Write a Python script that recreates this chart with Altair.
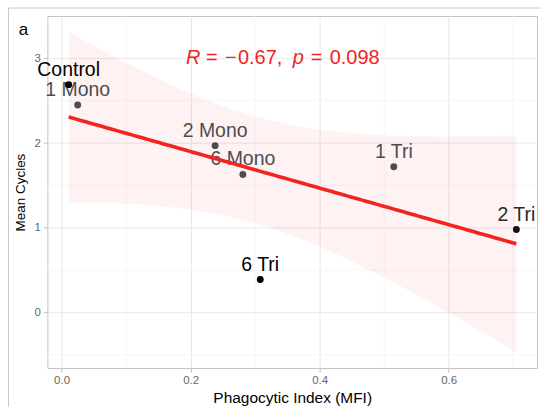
import altair as alt
import numpy as np
import pandas as pd

# Sample groups: phagocytic index (MFI) vs mean number of cycles
groups = ["Control", "1 Mono", "2 Mono", "6 Mono", "1 Tri", "2 Tri", "6 Tri"]
phagocytic = [0.011, 0.025, 0.238, 0.281, 0.515, 0.705, 0.308]
mean_cycles = [2.69, 2.45, 1.97, 1.63, 1.72, 0.98, 0.39]
point_colors = ["#000000", "#4D4D4D", "#4D4D4D", "#4D4D4D", "#4D4D4D", "#111111", "#000000"]
label_colors = ["#000000", "#4D4D4D", "#4D4D4D", "#4D4D4D", "#4D4D4D", "#2A2A2A", "#000000"]

x_major = [0.0, 0.2, 0.4, 0.6]
x_minor = [0.1, 0.3, 0.5, 0.7]
y_major = [0, 1, 2, 3]
y_minor = [-0.5, 0.5, 1.5, 2.5]

RED = "#F22420"
FONT = "Liberation Sans"

pts = pd.DataFrame({"group": groups, "x": phagocytic, "y": mean_cycles,
                    "pc": point_colors, "lc": label_colors})

# Ordinary least squares fit with a 95% confidence band
xa = np.array(phagocytic)
ya = np.array(mean_cycles)
n = len(xa)
sxx = ((xa - xa.mean()) ** 2).sum()
slope = ((xa - xa.mean()) * (ya - ya.mean())).sum() / sxx
intercept = ya.mean() - slope * xa.mean()
resid = ya - (intercept + slope * xa)
s = np.sqrt((resid ** 2).sum() / (n - 2))
t_crit = 2.570582  # t(0.975, df=5)
xs = np.linspace(xa.min(), xa.max(), 120)
fit = intercept + slope * xs
half = t_crit * s * np.sqrt(1 / n + (xs - xa.mean()) ** 2 / sxx)
band = pd.DataFrame({"x": xs, "fit": fit, "lo": fit - half, "hi": fit + half})

xscale = alt.Scale(domain=[-0.022, 0.737], nice=False, zero=False)
yscale = alt.Scale(domain=[-0.655, 3.50], nice=False, zero=False)

xaxis = alt.Axis(values=x_major, format=".1f", title="Phagocytic Index (MFI)",
                 titlePadding=5, labelPadding=2)
yaxis = alt.Axis(values=y_major, format="d", title="Mean Cycles",
                 titlePadding=7, labelPadding=3)

base_x = alt.X("x:Q", scale=xscale, axis=xaxis)
base_y = alt.Y("y:Q", scale=yscale, axis=yaxis)

minor_x = alt.Chart(pd.DataFrame({"v": x_minor})).mark_rule(
    color="#F2F2F2", strokeWidth=0.7).encode(x=alt.X("v:Q", scale=xscale))
minor_y = alt.Chart(pd.DataFrame({"v": y_minor})).mark_rule(
    color="#F2F2F2", strokeWidth=0.7).encode(y=alt.Y("v:Q", scale=yscale))

ci = alt.Chart(band).mark_area(color="#FF0000", opacity=0.05).encode(
    x=alt.X("x:Q", scale=xscale, axis=xaxis),
    y=alt.Y("lo:Q", scale=yscale, axis=yaxis),
    y2="hi:Q",
)

trend = alt.Chart(band).mark_line(color=RED, strokeWidth=3.6).encode(
    x=alt.X("x:Q", scale=xscale),
    y=alt.Y("fit:Q", scale=yscale),
)

labels = alt.Chart(pts).mark_text(
    font=FONT, fontSize=19.5, dy=-9, baseline="alphabetic", align="center"
).encode(x=base_x, y=base_y, text="group:N", color=alt.Color("lc:N", scale=None))

dots = alt.Chart(pts).mark_circle(size=48, opacity=1).encode(
    x=base_x, y=base_y, color=alt.Color("pc:N", scale=None))

# Correlation annotation, pieced together so R and p can be italic
anchor = pd.DataFrame({"x": [0.193], "y": [2.93]})
pieces = [("R", 0, "italic"), ("=", 20, "normal"), ("\u2212", 39, "normal"),
          ("0.67,", 52, "normal"), ("p", 107, "italic"), ("=", 125, "normal"),
          ("0.098", 144, "normal")]
annot = [
    alt.Chart(anchor).mark_text(
        text=txt, dx=off, align="left", baseline="alphabetic", font=FONT,
        fontSize=20, fontStyle=style, color=RED
    ).encode(x=alt.X("x:Q", scale=xscale), y=alt.Y("y:Q", scale=yscale))
    for txt, off, style in pieces
]

# Figure frame (also sets the outer bounds) and panel tag
frame_left = alt.Chart(anchor).mark_rule(color="#C8C8C8", strokeWidth=1).encode(
    x=alt.value(-39), y=alt.value(-8), y2=alt.value(392))
frame_top = alt.Chart(anchor).mark_rule(color="#C8C8C8", strokeWidth=1).encode(
    x=alt.value(-39), x2=alt.value(495), y=alt.value(-8))
tag = alt.Chart(anchor).mark_text(
    text="a", font=FONT, fontSize=17, align="center", baseline="alphabetic", color="#000000"
).encode(x=alt.value(-24), y=alt.value(19))

panel = alt.layer(
    minor_x, minor_y, ci, labels, trend, dots, *annot,
    frame_left, frame_top, tag
).properties(width=491, height=353)

chart = alt.hconcat(panel, spacing=0).properties(
    padding={"left": 7.5, "top": 6.5, "right": 0, "bottom": 0},
    autosize=alt.AutoSizeParams(type="pad"),
    background="white",
).configure_view(
    stroke="#C4C4C4", strokeWidth=1
).configure_axis(
    domain=False, grid=True, gridColor="#E8E8E8", gridWidth=1,
    tickColor="#BDBDBD", tickSize=4,
    labelFont=FONT, labelFontSize=11.5, labelColor="#666666",
    titleFont=FONT, titleFontWeight="normal", titleColor="#000000",
).configure_axisX(titleFontSize=15.5).configure_axisY(titleFontSize=13.5)

chart.save("out.html", embed_options={"renderer": "svg", "actions": False})
